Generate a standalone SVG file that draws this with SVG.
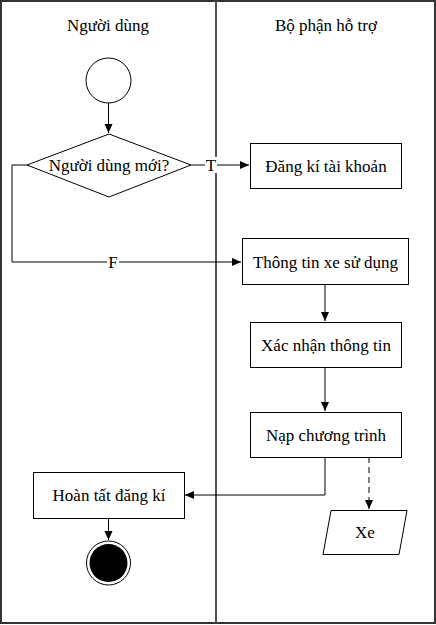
<svg xmlns="http://www.w3.org/2000/svg" width="436" height="625" viewBox="0 0 436 625">
<style>
text{font-family:"Liberation Serif","Times New Roman",serif;font-size:17px;fill:#000;text-anchor:middle;dominant-baseline:central}
.b{fill:#fff;stroke:#000;stroke-width:1}
.c{fill:none;stroke:#000;stroke-width:1}
.lbl{fill:#fff}
</style>
<defs>
<marker id="a" markerWidth="10" markerHeight="10" refX="9" refY="4" orient="auto" markerUnits="userSpaceOnUse">
<path d="M0,0 L9,4 L0,8 Z" fill="#000"/>
</marker>
</defs>
<rect x="0" y="0" width="436" height="625" fill="#fff"/>
<g id="lanes">
<rect x="1" y="1" width="434" height="622" fill="none" stroke="#333" stroke-width="2"/>
<line x1="216" y1="1" x2="216" y2="623" stroke="#555" stroke-width="2"/>
<text x="108" y="25">Người dùng</text>
<text x="326" y="25">Bộ phận hỗ trợ</text>
</g>
<g id="connectors">
<line class="c" x1="108.5" y1="103" x2="108.5" y2="133" marker-end="url(#a)"/>
<line class="c" x1="191" y1="165" x2="249" y2="165" marker-end="url(#a)"/>
<rect class="lbl" x="205" y="157" width="12" height="16"/>
<text x="211" y="165">T</text>
<polyline class="c" points="27,165 12,165 12,262 241,262" marker-end="url(#a)"/>
<rect class="lbl" x="107" y="254" width="12" height="16"/>
<text x="113" y="262">F</text>
<line class="c" x1="325" y1="284" x2="325" y2="321" marker-end="url(#a)"/>
<line class="c" x1="325" y1="367" x2="325" y2="411" marker-end="url(#a)"/>
<polyline class="c" points="325,457 325,495 185,495" marker-end="url(#a)"/>
<line class="c" x1="369" y1="457" x2="369" y2="509" stroke-dasharray="6,4" marker-end="url(#a)"/>
<line class="c" x1="108.5" y1="518" x2="108.5" y2="540" marker-end="url(#a)"/>
</g>
<g id="start">
<circle class="b" cx="108.5" cy="80.5" r="22.5"/>
</g>
<g id="decision">
<polygon class="b" points="109,134 191,165 109,197 27,165"/>
<text x="109" y="165">Người dùng mới?</text>
</g>
<g id="dangki">
<rect class="b" x="250.5" y="143.5" width="151" height="45"/>
<text x="326" y="166">Đăng kí tài khoản</text>
</g>
<g id="thongtin">
<rect class="b" x="242.5" y="238.5" width="166" height="46"/>
<text x="325.5" y="262">Thông tin xe sử dụng</text>
</g>
<g id="xacnhan">
<rect class="b" x="250.5" y="322.5" width="151" height="45"/>
<text x="326" y="345">Xác nhận thông tin</text>
</g>
<g id="nap">
<rect class="b" x="250.5" y="412.5" width="151" height="45"/>
<text x="326" y="435">Nạp chương trình</text>
</g>
<g id="hoantat">
<rect class="b" x="33.5" y="472.5" width="151" height="46"/>
<text x="109" y="495">Hoàn tất đăng kí</text>
</g>
<g id="xe">
<polygon class="b" points="331,510.5 407,510.5 399,554.5 323,554.5"/>
<text x="365" y="532">Xe</text>
</g>
<g id="end">
<circle class="b" cx="108.5" cy="563" r="22"/>
<circle cx="108.5" cy="563" r="19" fill="#000"/>
</g>
</svg>
